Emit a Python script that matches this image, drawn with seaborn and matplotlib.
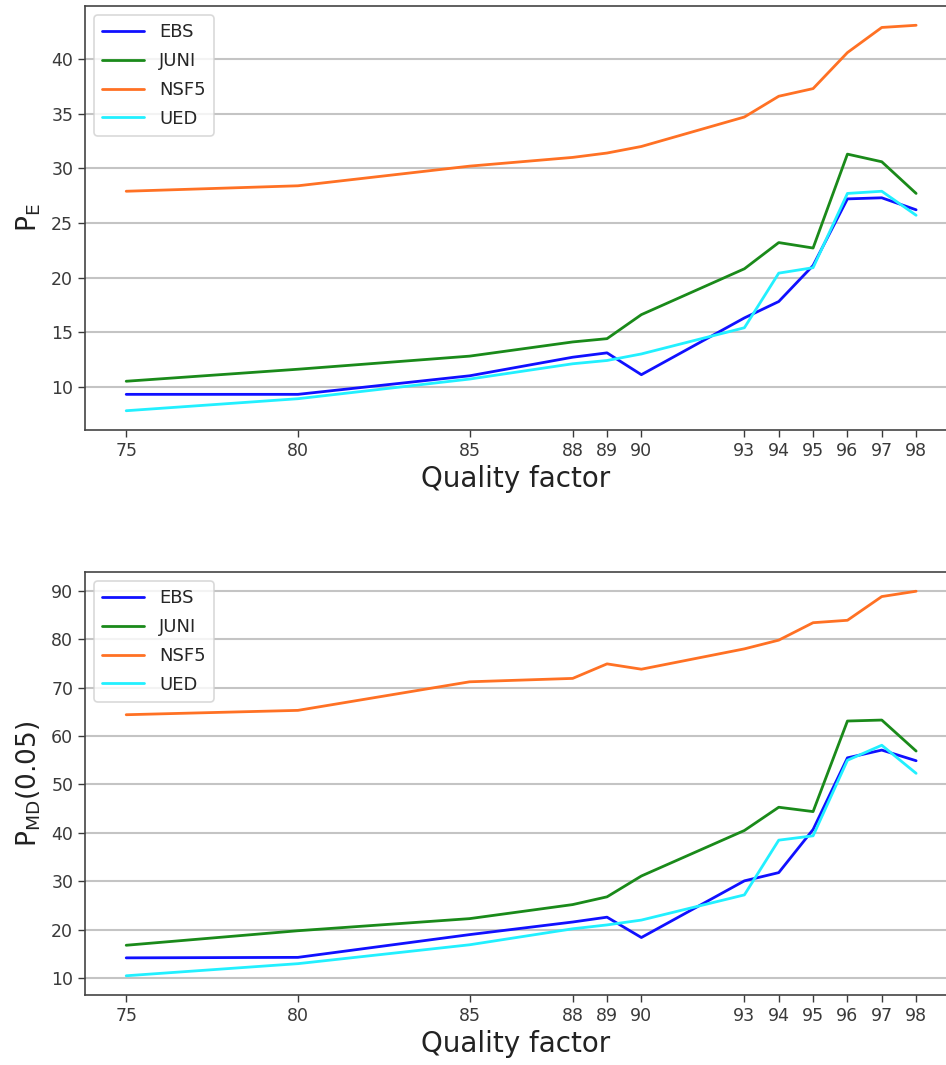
import numpy as np
import pandas as pd
import matplotlib
matplotlib.use("Agg")
import matplotlib.pyplot as plt
import seaborn as sns

# quality factors (x axis)
quality = [75, 80, 85, 88, 89, 90, 93, 94, 95, 96, 97, 98]

# P_E (top panel)
pe_ebs = [9.3, 9.3, 11.0, 12.7, 13.1, 11.1, 16.3, 17.8, 21.1, 27.2, 27.3, 26.2]
pe_juni = [10.5, 11.6, 12.8, 14.1, 14.4, 16.6, 20.8, 23.2, 22.7, 31.3, 30.6, 27.7]
pe_nsf5 = [27.9, 28.4, 30.2, 31.0, 31.4, 32.0, 34.7, 36.6, 37.3, 40.6, 42.9, 43.1]
pe_ued = [7.8, 8.9, 10.7, 12.1, 12.4, 13.0, 15.4, 20.4, 20.9, 27.7, 27.9, 25.7]

# P_MD(0.05) (bottom panel)
pmd_ebs = [14.2, 14.3, 19.0, 21.6, 22.6, 18.4, 30.1, 31.8, 40.7, 55.5, 57.1, 54.9]
pmd_juni = [16.8, 19.8, 22.3, 25.2, 26.8, 31.1, 40.5, 45.3, 44.4, 63.1, 63.3, 56.9]
pmd_nsf5 = [64.4, 65.3, 71.2, 71.9, 74.9, 73.8, 78.0, 79.8, 83.4, 83.9, 88.8, 89.9]
pmd_ued = [10.5, 13.0, 16.9, 20.2, 21.0, 22.0, 27.2, 38.5, 39.4, 55.0, 58.1, 52.3]

methods = ["EBS", "JUNI", "NSF5", "UED"]
palette = {"EBS": "#1010ff", "JUNI": "#1a8a1a", "NSF5": "#ff7124", "UED": "#22f0ff"}


def long_df(series):
    rows = []
    for name, vals in zip(methods, series):
        for q, v in zip(quality, vals):
            rows.append({"quality": q, "value": v, "method": name})
    return pd.DataFrame(rows)


sns.set_theme(style="ticks")
plt.rcParams["font.family"] = ["DejaVu Sans"]

fig = plt.figure(figsize=(9.46, 10.65), dpi=100)
W, H = 946, 1065
ax_top = fig.add_axes([85 / W, 1 - 430 / H, (946 - 85) / W, (430 - 6) / H])
ax_bot = fig.add_axes([85 / W, 1 - 995 / H, (946 - 85) / W, (995 - 572) / H])

panels = [
    (ax_top, [pe_ebs, pe_juni, pe_nsf5, pe_ued], r"$\mathregular{P_E}$", np.arange(10, 41, 5)),
    (ax_bot, [pmd_ebs, pmd_juni, pmd_nsf5, pmd_ued], r"$\mathregular{P_{MD}(0.05)}$", np.arange(10, 91, 10)),
]

for ax, series, ylab, yt in panels:
    df = long_df(series)
    sns.lineplot(data=df, x="quality", y="value", hue="method", palette=palette,
                 linewidth=2, ax=ax)
    ax.set_xticks(quality)
    ax.set_xlim(73.8, 98.87)
    ax.set_yticks(yt)
    ax.yaxis.grid(True, color="#c4c4c4", linewidth=1.5)
    ax.xaxis.grid(False)
    ax.tick_params(labelsize=12.5, colors="#3a3a3a", length=5, width=1)
    for side in ["left", "bottom", "top"]:
        ax.spines[side].set_color("#444444")
        ax.spines[side].set_linewidth(1.2)
    ax.spines["right"].set_visible(False)
    ax.set_xlabel("Quality factor", fontsize=20, color="#222222", labelpad=4)
    ax.set_ylabel(ylab, fontsize=19, color="#222222", labelpad=6)
    leg = ax.legend(loc="upper left", fontsize=13, frameon=True, fancybox=True,
                    borderpad=0.45, borderaxespad=0.5, labelspacing=0.6,
                    handlelength=2.3, handletextpad=0.85)
    leg.get_frame().set_edgecolor("#d0d0d0")
    leg.get_frame().set_linewidth(1.2)

fig.savefig("out.png", dpi=100)
